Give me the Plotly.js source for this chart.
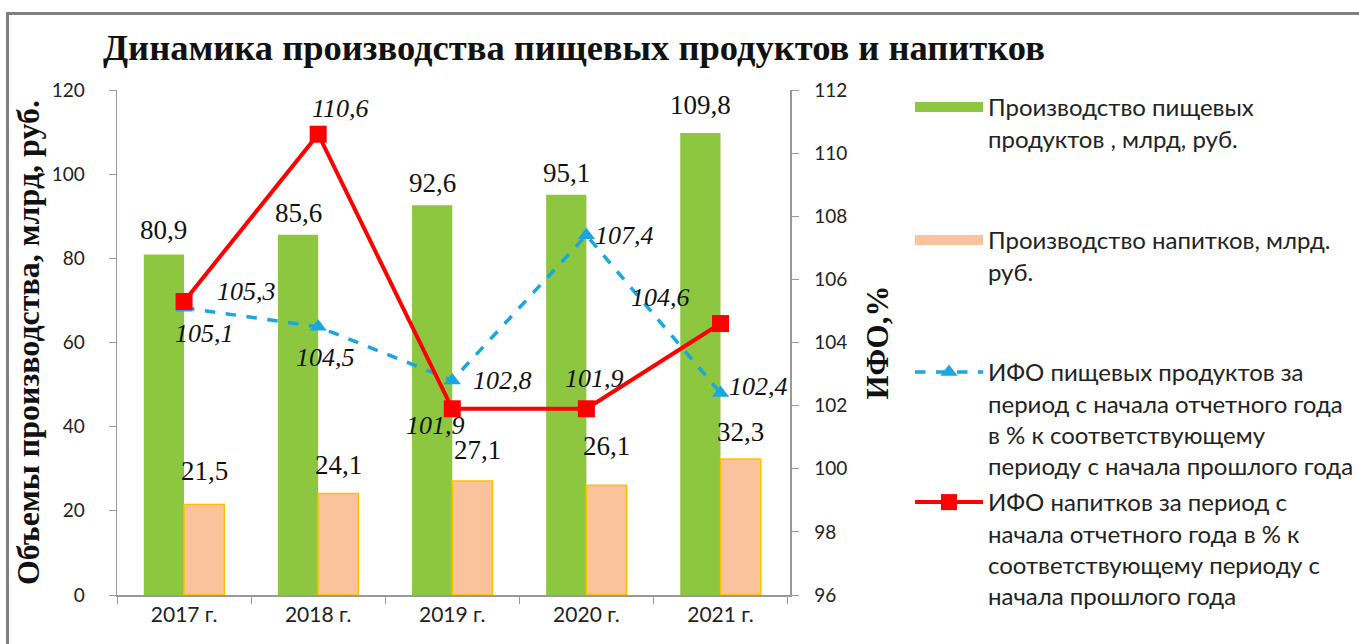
<!DOCTYPE html>
<html><head><meta charset="utf-8">
<script src="https://cdn.plot.ly/plotly-3.0.1.min.js"></script>
<style>
html,body{margin:0;padding:0;background:#fff;overflow:hidden}
#chart{position:absolute;left:0;top:0;width:1359px;height:644px}
#frame{position:absolute;left:6px;top:12px;width:1400px;height:700px;border-left:3px solid #808080;border-top:3px solid #808080;pointer-events:none}
</style>
</head><body>
<div id="chart"></div><div id="frame"></div>
<script>
const years = ['2017 г.', '2018 г.', '2019 г.', '2020 г.', '2021 г.'];
const foodProd = [80.9, 85.6, 92.6, 95.1, 109.8];
const drinkProd = [21.5, 24.1, 27.1, 26.1, 32.3];
const foodIndex = [105.1, 104.5, 102.8, 107.4, 102.4];
const drinkIndex = [105.3, 110.6, 101.9, 101.9, 104.6];

const nameFood = 'Производство пищевых<br>продуктов , млрд, руб.';
const nameDrink = 'Производство напитков, млрд.<br>руб.';
const nameFoodIdx = 'ИФО пищевых продуктов за<br>период с начала отчетного года<br>в % к соответствующему<br>периоду с начала прошлого года';
const nameDrinkIdx = 'ИФО напитков за период с<br>начала отчетного года в % к<br>соответствующему периоду с<br>начала прошлого года';

// label offsets in pixels (styling)
const foodLabelLift = [25, 22, 22, 22, 28];
const drinkLabelLift = [34, 29, 31, 39, 27];
const drinkLabelNudge = [0, 0, 5, 0, 0];
const redLabelOff = [[62, 10], [22, 26], [-17, -17], [8, 30], [-60, 26]];
const blueLabelOff = [[20, -26], [7, -31], [50, 0], [38, 0], [38, 7]];

const GREEN = '#8DC63F', PEACH = '#FAC39B', GOLD = '#FFC000', BLUE = '#1AA7E0', RED = '#FF0000';
const fmt = v => v.toFixed(1).replace('.', ',');

const traces = [
  {type: 'bar', x: years, y: foodProd, name: nameFood, marker: {color: GREEN}, showlegend: false, hoverinfo: 'y'},
  {type: 'bar', x: years, y: drinkProd, name: nameDrink, marker: {color: PEACH, line: {color: GOLD, width: 1.5}}, showlegend: false, hoverinfo: 'y'},
  {type: 'scatter', mode: 'lines+markers', x: years, y: foodIndex, yaxis: 'y2', name: nameFoodIdx,
   line: {color: BLUE, width: 3.5, dash: 'dash'}, marker: {symbol: 'triangle-up', size: 15, color: BLUE}, legend: 'legend3'},
  {type: 'scatter', mode: 'lines+markers', x: years, y: drinkIndex, yaxis: 'y2', name: nameDrinkIdx,
   line: {color: RED, width: 4}, marker: {symbol: 'square', size: 17, color: RED}, legend: 'legend4'},
  // legend proxies for bar series
  {type: 'scatter', mode: 'lines', x: [null], y: [null], name: nameFood, line: {color: GREEN, width: 14}, legend: 'legend', hoverinfo: 'skip'},
  {type: 'scatter', mode: 'lines', x: [null], y: [null], name: nameDrink, line: {color: PEACH, width: 13}, legend: 'legend2', hoverinfo: 'skip'}
];

const annotations = [];
const serifLbl = {family: 'Liberation Serif, Times New Roman, serif', size: 27, color: '#111'};
const serifIt = {family: 'Liberation Serif, Times New Roman, serif', size: 26, color: '#111', style: 'italic'};
foodProd.forEach((v, i) => annotations.push({x: i - 0.15, y: v, xref: 'x', yref: 'y', text: fmt(v), showarrow: false, yanchor: 'middle', yshift: foodLabelLift[i], font: serifLbl}));
drinkProd.forEach((v, i) => annotations.push({x: i + 0.15, y: v, xref: 'x', yref: 'y', text: fmt(v), showarrow: false, yanchor: 'middle', xshift: drinkLabelNudge[i], yshift: drinkLabelLift[i], font: serifLbl}));
drinkIndex.forEach((v, i) => annotations.push({x: i, y: v, xref: 'x', yref: 'y2', text: '<i>' + fmt(v) + '</i>', showarrow: false, xshift: redLabelOff[i][0], yshift: redLabelOff[i][1], font: serifIt}));
foodIndex.forEach((v, i) => annotations.push({x: i, y: v, xref: 'x', yref: 'y2', text: '<i>' + fmt(v) + '</i>', showarrow: false, xshift: blueLabelOff[i][0], yshift: blueLabelOff[i][1], font: serifIt}));

const legFont = {family: 'Lato, sans-serif', size: 24, color: '#222'};
const leg = (top) => ({xref: 'container', yref: 'container', x: 910 / 1359, y: 1 - top / 644, xanchor: 'left', yanchor: 'top',
  font: legFont, itemwidth: 68, valign: 'top', bgcolor: 'rgba(0,0,0,0)', borderwidth: 0, tracegroupgap: 0});

const layout = {
  width: 1359, height: 644,
  margin: {l: 117, r: 569, t: 90, b: 49},
  paper_bgcolor: '#fff', plot_bgcolor: '#fff',
  separators: ',.',
  barmode: 'group', bargap: 0.4, bargroupgap: 0,
  title: {text: '<b>Динамика производства пищевых продуктов и напитков</b>', xref: 'container', yref: 'container', x: 103 / 1359, xanchor: 'left', y: 1 - 47 / 644, yanchor: 'middle',
    font: {family: 'Liberation Serif, Times New Roman, serif', size: 36.5, color: '#111'}},
  xaxis: {type: 'category', showgrid: false, showline: true, linecolor: '#999', linewidth: 1.5, ticks: 'outside', ticklen: 7, tickcolor: '#999', tickson: 'boundaries',
    tickfont: {family: 'Lato, sans-serif', size: 21, color: '#222'}, zeroline: false},
  yaxis: {range: [0, 120], dtick: 20, showgrid: false, showline: true, linecolor: '#999', linewidth: 1.5, ticks: 'outside', ticklen: 7, tickcolor: '#999',
    tickfont: {family: 'Lato, sans-serif', size: 19, color: '#222'}, ticklabelstandoff: 20, zeroline: false,
    title: {text: '<b>Объемы производства, млрд, руб.</b>', standoff: 2, font: {family: 'Liberation Serif, Times New Roman, serif', size: 32, color: '#111'}}},
  yaxis2: {range: [96, 112], dtick: 2, overlaying: 'y', side: 'right', showgrid: false, showline: true, linecolor: '#999', linewidth: 1.5, ticks: 'outside', ticklen: 7, tickcolor: '#999',
    tickfont: {family: 'Lato, sans-serif', size: 19, color: '#222'}, ticklabelstandoff: 12, zeroline: false,
    title: {text: '<b>ИФО,%</b>', standoff: 20, font: {family: 'Liberation Serif, Times New Roman, serif', size: 31, color: '#111'}}},
  annotations: annotations,
  legend: leg(85),
  legend2: leg(218),
  legend3: leg(350),
  legend4: leg(480),
  showlegend: true
};

Plotly.newPlot('chart', traces, layout, {displayModeBar: false, staticPlot: true});
</script>
</body></html>
